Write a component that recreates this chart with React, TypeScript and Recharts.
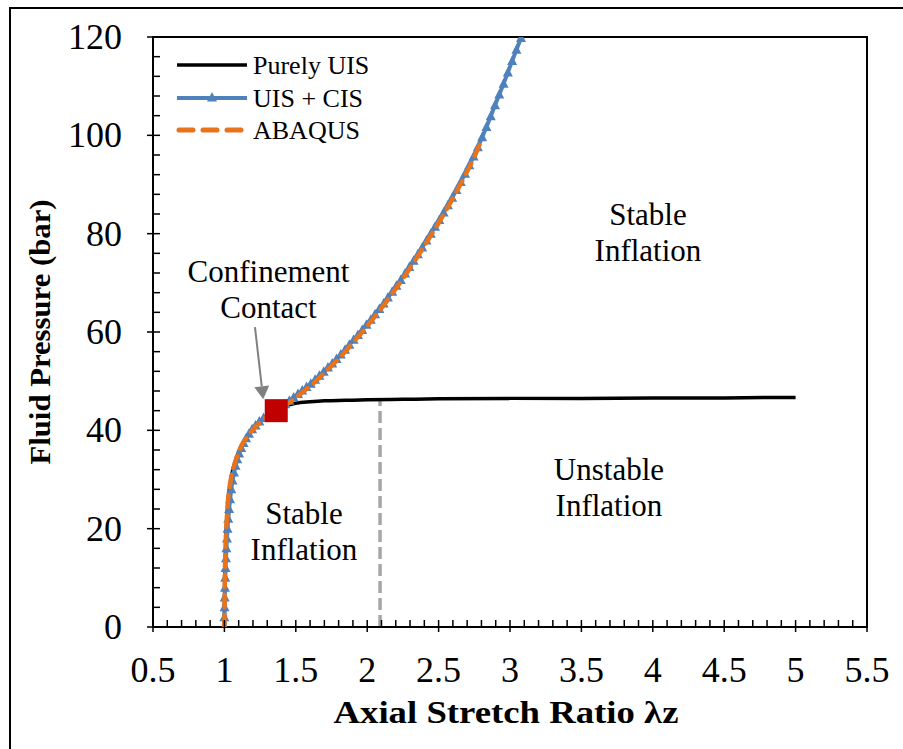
import React from 'react';
import { ComposedChart, Line, Scatter, XAxis, YAxis, ReferenceLine, ReferenceArea, ReferenceDot } from 'recharts';

// Purely UIS (black)
const uisX = [1, 1.002, 1.008, 1.02, 1.045, 1.075, 1.11, 1.16, 1.22, 1.31, 1.365, 1.42, 1.5, 1.6, 1.7, 1.85, 2.0, 2.25, 2.5, 3.0, 3.5, 4.0, 4.5, 5.0];
const uisY = [0, 8, 16, 23.5, 30, 33.5, 36.3, 38.7, 40.8, 43.2, 44.1, 44.9, 45.5, 45.8, 46.0, 46.1, 46.2, 46.3, 46.4, 46.5, 46.5, 46.6, 46.6, 46.7];

// UIS + CIS (blue, triangles)
const cisX = [1, 1.0, 1.001, 1.002, 1.004, 1.006, 1.008, 1.011, 1.014, 1.018, 1.022, 1.027, 1.033, 1.04, 1.048, 1.057, 1.067, 1.078, 1.09, 1.103, 1.118, 1.134, 1.152, 1.172, 1.194, 1.218, 1.245, 1.274, 1.305, 1.335, 1.365,
  1.395, 1.425, 1.455, 1.485, 1.515, 1.545, 1.575, 1.605, 1.635, 1.665, 1.695, 1.725, 1.755, 1.785, 1.815, 1.845, 1.875, 1.905, 1.935, 1.965, 1.995,
  2.025, 2.055, 2.085, 2.115, 2.145, 2.175, 2.205, 2.235, 2.265, 2.295, 2.325, 2.355, 2.385, 2.415, 2.445, 2.475, 2.505, 2.535, 2.565, 2.595, 2.625,
  2.655, 2.685, 2.715, 2.745, 2.775, 2.805, 2.835, 2.865, 2.895, 2.925, 2.955, 2.985, 3.015, 3.045, 3.077];
const cisY = [0, 2, 4, 6, 8, 10, 12, 14, 16, 18, 20, 22, 24, 26, 28, 29.8, 31.4, 32.8, 34.1, 35.3, 36.4, 37.4, 38.4, 39.3, 40.2, 41.0, 41.8, 42.5, 43.1, 43.6, 44.1,
  44.7, 45.3, 46.0, 46.7, 47.4, 48.1, 48.8, 49.5, 50.3, 51.1, 51.9, 52.8, 53.6, 54.5, 55.4, 56.4, 57.4, 58.4, 59.4, 60.4, 61.5,
  62.5, 63.6, 64.7, 65.8, 67.0, 68.2, 69.4, 70.6, 71.9, 73.2, 74.5, 75.8, 77.2, 78.6, 80.0, 81.4, 82.8, 84.3, 85.8, 87.3, 88.9,
  90.5, 92.2, 93.9, 95.7, 97.6, 99.6, 101.7, 103.9, 106.1, 108.3, 110.5, 112.8, 115.1, 117.4, 119.8];

// ABAQUS (orange dashed)
const abqX = [1, 1.002, 1.008, 1.02, 1.045, 1.075, 1.11, 1.16, 1.22, 1.31, 1.365, 1.425, 1.485, 1.545, 1.605, 1.665, 1.725, 1.785, 1.845, 1.905, 1.965, 2.025, 2.085, 2.145, 2.205, 2.265, 2.325, 2.385, 2.445, 2.505, 2.565, 2.625, 2.685, 2.745, 2.8];
const abqY = [0, 8, 16, 23.5, 30, 33.5, 36.3, 38.7, 40.8, 43.0, 43.8, 45.0, 46.3, 47.7, 49.1, 50.7, 52.4, 54.1, 56.0, 58.0, 60.0, 62.1, 64.3, 66.6, 69.0, 71.5, 74.1, 76.8, 79.6, 82.4, 85.4, 88.5, 91.8, 95.3, 99.0];

const contactX = [1.363];
const contactY = [44.0];

const xLabels = [0.5, 1, 1.5, 2, 2.5, 3, 3.5, 4, 4.5, 5, 5.5];
const yLabels = [0, 20, 40, 60, 80, 100, 120];
const xTicks = Array.from({ length: 51 }, (_, i) => +(0.5 + i * 0.1).toFixed(1));
const yTicks = Array.from({ length: 31 }, (_, i) => i * 4);

const uisData = uisX.map((x, i) => ({ x, y: uisY[i] }));
const cisData = cisX.map((x, i) => ({ x, y: cisY[i] }));
const abqData = abqX.map((x, i) => ({ x, y: abqY[i] }));
const contactData = contactX.map((x, i) => ({ x, y: contactY[i] }));

const FONT = '"Liberation Serif", "Times New Roman", serif';
const BLUE = '#4F81BD';
const ORANGE = '#E8731A';

const XTick = (props: any) => {
  const { x, y, payload } = props;
  const v = payload.value;
  const major = xLabels.includes(v);
  return (
    <g>
      <line x1={x} x2={x} y1={major ? y + 5 : y} y2={y - 7} stroke="#000" strokeWidth={1.5} />
      {major && (
        <text x={x} y={y + 55} textAnchor="middle" fontFamily={FONT} fontSize={36} fill="#000">
          {String(v)}
        </text>
      )}
    </g>
  );
};

const YTick = (props: any) => {
  const { x, y, payload } = props;
  const v = payload.value;
  const major = yLabels.includes(v);
  return (
    <g>
      <line x1={major ? x - 6 : x} x2={x + 7} y1={y} y2={y} stroke="#000" strokeWidth={1.5} />
      {major && (
        <text x={x - 31} y={y + 12} textAnchor="end" fontFamily={FONT} fontSize={36} fill="#000">
          {String(v)}
        </text>
      )}
    </g>
  );
};

const Triangle = (props: any) => {
  const { cx, cy } = props;
  if (cx == null || cy == null) return null;
  return <polygon points={`${cx},${cy - 5.5} ${cx - 5},${cy + 4} ${cx + 5},${cy + 4}`} fill={BLUE} />;
};

const Square = (props: any) => {
  const { cx, cy } = props;
  return <rect x={cx - 11.5} y={cy - 11.5} width={23} height={23} fill="#C00000" />;
};

const twoLines = (a: string, b: string) => (props: any) => (
  <text x={props.cx} y={props.cy} textAnchor="middle" fontFamily={FONT} fontSize={31} fill="#000">
    <tspan x={props.cx} dy={0}>{a}</tspan>
    <tspan x={props.cx} dy={36}>{b}</tspan>
  </text>
);

const Arrow = (props: any) => {
  const { x1, y1, x2, y2 } = props;
  const dx = x2 - x1;
  const dy = y2 - y1;
  const len = Math.sqrt(dx * dx + dy * dy);
  const ux = dx / len;
  const uy = dy / len;
  const bx = x2 - ux * 13;
  const by = y2 - uy * 13;
  return (
    <g>
      <line x1={x1} y1={y1} x2={bx} y2={by} stroke="#808080" strokeWidth={2} />
      <polygon
        points={`${x2},${y2} ${bx - uy * 7.5},${by + ux * 7.5} ${bx + uy * 7.5},${by - ux * 7.5}`}
        fill="#808080"
      />
    </g>
  );
};

const LegendBox = () => (
  <svg width={420} height={150} style={{ position: 'absolute', left: 0, top: 0 }}>
    <line x1={177} x2={247} y1={65} y2={65} stroke="#000" strokeWidth={3.5} />
    <text x={253} y={74} fontFamily={FONT} fontSize={26}>Purely UIS</text>
    <line x1={177} x2={247} y1={98} y2={98} stroke={BLUE} strokeWidth={4} />
    <polygon points="212,92 207,101.5 217,101.5" fill={BLUE} />
    <text x={253} y={107} fontFamily={FONT} fontSize={26}>UIS + CIS</text>
    <line x1={179} x2={247} y1={130} y2={130} stroke={ORANGE} strokeWidth={5} strokeDasharray="14 10" strokeLinecap="round" />
    <text x={253} y={139} fontFamily={FONT} fontSize={26}>ABAQUS</text>
  </svg>
);

export default function App() {
  return (
    <div style={{ position: 'relative', width: 903, height: 749, background: '#fff', overflow: 'hidden' }}>
      <style>{'body{margin:0;overflow:hidden;}'}</style>
      <div
        style={{
          position: 'absolute', left: 9, top: 7, width: 894, height: 742,
          borderLeft: '2px solid #000', borderTop: '2px solid #000', boxSizing: 'border-box',
        }}
      />
      <ComposedChart width={903} height={749} margin={{ top: 37, right: 36, left: 0, bottom: 0 }}>
        <XAxis
          type="number"
          dataKey="x"
          domain={[0.5, 5.5]}
          ticks={xTicks}
          interval={0}
          tickLine={false}
          tickSize={0}
          tickMargin={0}
          tick={<XTick />}
          axisLine={{ stroke: '#000', strokeWidth: 2 }}
          height={122}
          allowDataOverflow
        />
        <YAxis
          type="number"
          dataKey="y"
          domain={[0, 120]}
          ticks={yTicks}
          interval={0}
          tickLine={false}
          tickSize={0}
          tickMargin={0}
          tick={<YTick />}
          axisLine={{ stroke: '#000', strokeWidth: 2 }}
          width={153}
          allowDataOverflow
        />
        <ReferenceArea x1={0.5} x2={5.5} y1={0} y2={120} fill="none" stroke="#000" strokeWidth={2} fillOpacity={0} />
        <ReferenceLine
          segment={[{ x: 2.09, y: 0 }, { x: 2.09, y: 46.2 }]}
          stroke="#A6A6A6"
          strokeWidth={3.5}
          strokeDasharray="12 5"
        />
        <ReferenceLine segment={[{ x: 1.214, y: 61.0 }, { x: 1.272, y: 46.3 }]} shape={<Arrow />} />
        <Line data={uisData} dataKey="y" type="monotone" stroke="#000" strokeWidth={3.5} dot={false} isAnimationActive={false} />
        <Line data={cisData} dataKey="y" type="linear" stroke={BLUE} strokeWidth={4} dot={<Triangle />} isAnimationActive={false} />
        <Line
          data={abqData}
          dataKey="y"
          type="monotone"
          stroke={ORANGE}
          strokeWidth={4.5}
          strokeDasharray="12 8"
          strokeLinecap="round"
          dot={false}
          isAnimationActive={false}
          zIndex={700}
        />
        <Scatter data={contactData} dataKey="y" shape={<Square />} isAnimationActive={false} zIndex={800} />
        <ReferenceDot x={1.309} y={70.2} r={0} shape={twoLines('Confinement', 'Contact')} />
        <ReferenceDot x={3.966} y={81.76} r={0} shape={twoLines('Stable', 'Inflation')} />
        <ReferenceDot x={3.693} y={29.9} r={0} shape={twoLines('Unstable', 'Inflation')} />
        <ReferenceDot x={1.557} y={20.95} r={0} shape={twoLines('Stable', 'Inflation')} />
        <text
          x={506}
          y={723}
          textAnchor="middle"
          fontFamily={FONT}
          fontSize={31}
          fontWeight="bold"
          fill="#000"
          textLength={345}
          lengthAdjust="spacingAndGlyphs"
        >
          Axial Stretch Ratio λz
        </text>
        <text
          x={0}
          y={0}
          transform="translate(50,332) rotate(-90)"
          textAnchor="middle"
          fontFamily={FONT}
          fontSize={30}
          fontWeight="bold"
          fill="#000"
          textLength={265}
          lengthAdjust="spacingAndGlyphs"
        >
          Fluid Pressure (bar)
        </text>
      </ComposedChart>
      <LegendBox />
    </div>
  );
}
